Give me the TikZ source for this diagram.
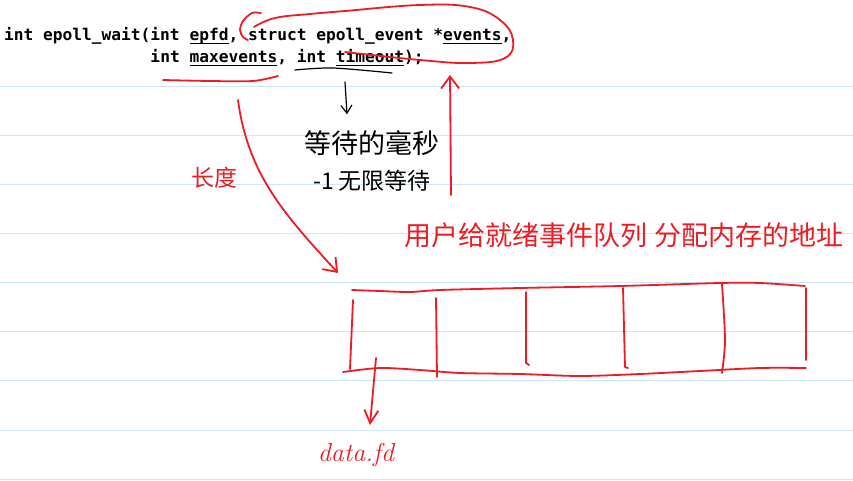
\documentclass[tikz,border=0pt]{standalone}
\usepackage{fontspec}
\usepackage{tikz}
\usetikzlibrary{arrows.meta, positioning}
\newfontfamily\codefont{DejaVu Sans Mono}
\newfontfamily\cjk{Noto Sans CJK SC}
\definecolor{penred}{RGB}{237,28,36}
\definecolor{ruleblue}{RGB}{204,232,248}
\newcommand\codeul[1]{\setbox0\hbox{#1}\rlap{\rule[-2.7pt]{\wd0}{0.9pt}}\box0}

\begin{document}
\begin{tikzpicture}[x=1pt, y=-1pt, >={Straight Barb[length=12pt,width=18pt]}]
    \tikzstyle{code} = [anchor=base west, inner sep=0pt, font=\codefont\bfseries\fontsize{16.2}{18}\selectfont]
    \tikzstyle{note} = [inner sep=0pt, font=\cjk\fontsize{27}{30}\selectfont]
    \tikzstyle{pen} = [draw=penred, line width=1.8pt, line cap=round, line join=round]
    \tikzstyle{ink} = [draw=black, line width=1.2pt, line cap=round, line join=round]

    % paper with ruled lines
    \useasboundingbox [fill=white] (0,0) rectangle (853,481);
    \foreach \k in {0,...,8}
        \draw [ruleblue, line width=0.9pt] (0,86+49.15*\k) -- (853,86+49.15*\k);

    % the prototype
    \node [code] (sig1) at (4,41) {int epoll\_wait(int \codeul{epfd}, struct epoll\_event *\codeul{events},};
    \node [code] (sig2) at (4,63) {\phantom{int epoll\_wait(}int \codeul{maxevents}, int \codeul{timeout});};

    % handwritten notes
    \node [note] (wait) at (372,143) {等待的毫秒};
    \node [note, font=\cjk\fontsize{23}{26}\selectfont] (forever) at (372,181) {-1 无限等待};
    \node [note, text=penred, font=\cjk\fontsize{23}{26}\selectfont] (len) at (214,178) {长度};
    \node [note, text=penred] (addr) at (624,235) {用户给就绪事件队列 分配内存的地址};
    \node [inner sep=0pt, text=penred, font=\fontsize{26}{30}\selectfont\itshape] (fd) at (356,455) {data.fd};

    \coordinate (tmo) at (345,82);
    \coordinate (mxul) at (238,100);
    \coordinate (arrtop) at (338,273);
    \coordinate (upfoot) at (451,195);
    \coordinate (loopbot) at (450,75);
    \coordinate (slot) at (376,358);
    \coordinate (fdtip) at (370,425);

    % marks on the prototype
    \draw [pen] plot [smooth, tension=0.7] coordinates {(254,27) (275,18) (310,14) (345,11) (420,5) (470,7) (500,20) (513,40) (505,58) (470,63) (420,60) (345,52)};
    \draw [pen] plot [smooth] coordinates {(261,13) (252,13) (243,21) (240,30) (243,37) (248,40)};
    \draw [pen] plot [smooth] coordinates {(163,80) (210,81) (253,81) (278,76)};
    \draw [ink] plot [smooth] coordinates {(295,70) (333,68) (392,73)};

    % arrows
    \draw [->, ink, >={Straight Barb[length=8pt,width=11pt]}] (tmo) -- ([xshift=-25pt, yshift=16pt]wait.north);
    \draw [->, pen] (upfoot) -- (loopbot);
    \draw [->, pen] (mxul) .. controls (248,175) and (285,215) .. (arrtop);
    \draw [->, pen, >={Straight Barb[length=13pt,width=14pt]}] (slot) -- (fdtip);

    % event array
    \draw [pen] plot [smooth] coordinates {(352,290) (380,291) (410,292) (440,290) (520,288) (620,286) (720,283) (760,283) (805,286)};
    \draw [pen] plot [smooth] coordinates {(343,372) (380,368) (420,370) (460,373) (520,374) (580,376) (640,374) (700,371) (760,368) (806,368)};
    \draw [pen] (353,300) -- (350,369);
    \draw [pen] (436,298) -- (437,377);
    \draw [pen] (526,292) -- (526,363) -- (529,365);
    \draw [pen] (623,288) -- (625,367) -- (628,368);
    \draw [pen] plot [smooth] coordinates {(722,284) (725,340) (722,373)};
    \draw [pen] (806,288) -- (806,360);
\end{tikzpicture}
\end{document}
